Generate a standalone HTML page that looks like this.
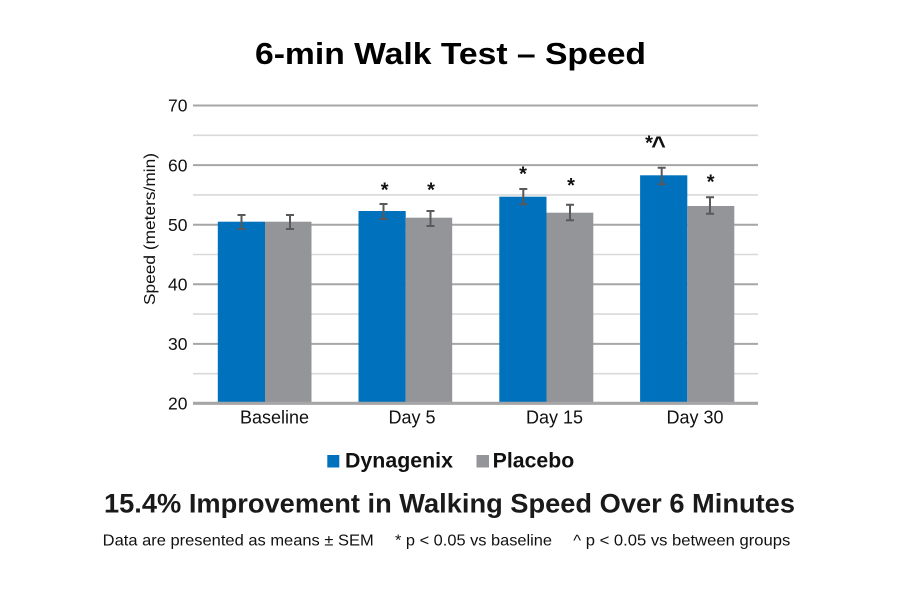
<!DOCTYPE html>
<html>
<head>
<meta charset="utf-8">
<style>
html,body{margin:0;padding:0;background:#fff;}
svg{display:block;}
text{font-family:"Liberation Sans",Arial,sans-serif;}
</style>
</head>
<body>
<svg width="900" height="600" viewBox="0 0 900 600" xmlns="http://www.w3.org/2000/svg">
<rect width="900" height="600" fill="#fff"/>
<!-- Title -->
<text x="255" y="63.8" font-size="31" font-weight="bold" fill="#000" textLength="391" lengthAdjust="spacingAndGlyphs">6-min Walk Test – Speed</text>

<!-- minor gridlines -->
<g stroke="#D9D9D9" stroke-width="1.6">
<line x1="193" y1="135.3" x2="758" y2="135.3"/>
<line x1="193" y1="194.9" x2="758" y2="194.9"/>
<line x1="193" y1="254.5" x2="758" y2="254.5"/>
<line x1="193" y1="314.1" x2="758" y2="314.1"/>
<line x1="193" y1="373.7" x2="758" y2="373.7"/>
</g>
<!-- major gridlines -->
<g stroke="#A6A6A6" stroke-width="2">
<line x1="193" y1="105.5" x2="758" y2="105.5"/>
<line x1="193" y1="165.1" x2="758" y2="165.1"/>
<line x1="193" y1="224.7" x2="758" y2="224.7"/>
<line x1="193" y1="284.3" x2="758" y2="284.3"/>
<line x1="193" y1="343.9" x2="758" y2="343.9"/>
</g>

<!-- Bars -->
<g fill="#0071BC">
<rect x="217.8" y="221.7" width="47.2" height="181"/>
<rect x="358.5" y="211" width="47.2" height="191.7"/>
<rect x="499.3" y="196.7" width="47.2" height="206"/>
<rect x="640.1" y="175.3" width="47.2" height="227.4"/>
</g>
<g fill="#939598">
<rect x="265" y="221.7" width="46.5" height="181"/>
<rect x="405.7" y="217.7" width="46.5" height="185"/>
<rect x="546.5" y="212.7" width="46.8" height="190"/>
<rect x="687.3" y="206" width="47" height="196.7"/>
</g>

<!-- axis -->
<line x1="193" y1="403.3" x2="758" y2="403.3" stroke="#A6A6A6" stroke-width="3.2"/>

<!-- error bars -->
<g stroke="#595959" stroke-width="2" fill="none">
<path d="M241.5 215V229M237.5 215H245.5M237.5 229H245.5"/>
<path d="M290 215V229M286 215H294M286 229H294"/>
<path d="M383.5 204V219M379.5 204H387.5M379.5 219H387.5"/>
<path d="M430.5 211V226M426.5 211H434.5M426.5 226H434.5"/>
<path d="M523.3 189V204.3M519.3 189H527.3M519.3 204.3H527.3"/>
<path d="M570 204.7V220.3M566 204.7H574M566 220.3H574"/>
<path d="M661.7 167.7V184.3M657.7 167.7H665.7M657.7 184.3H665.7"/>
<path d="M710 197.3V213.7M706 197.3H714M706 213.7H714"/>
</g>

<!-- significance marks -->
<g font-size="20" font-weight="bold" fill="#111" text-anchor="middle">
<text x="384.7" y="196.6">*</text>
<text x="431" y="196.6">*</text>
<text x="523" y="180.3">*</text>
<text x="571" y="192">*</text>
<text x="649" y="149.5">*</text>
<text x="710.7" y="188.6">*</text>
</g>
<text x="658.5" y="154" font-size="25" font-weight="bold" fill="#111" text-anchor="middle">^</text>

<!-- y tick labels -->
<g font-size="17.5" fill="#111" text-anchor="end">
<text x="187.5" y="111.7">70</text>
<text x="187.5" y="171.3">60</text>
<text x="187.5" y="230.9">50</text>
<text x="187.5" y="290.5">40</text>
<text x="187.5" y="350.1">30</text>
<text x="187.5" y="409.7">20</text>
</g>

<!-- y axis title -->
<text transform="translate(155,229) rotate(-90)" font-size="15.5" fill="#111" text-anchor="middle" textLength="152" lengthAdjust="spacingAndGlyphs">Speed (meters/min)</text>

<!-- x labels -->
<g font-size="18" fill="#111" text-anchor="middle">
<text x="274.5" y="423.3">Baseline</text>
<text x="412" y="423.3">Day 5</text>
<text x="554.5" y="423.3">Day 15</text>
<text x="695" y="423.3">Day 30</text>
</g>

<!-- legend -->
<rect x="327.3" y="455" width="12" height="12.5" fill="#0071BC"/>
<text x="345" y="467.3" font-size="21" font-weight="bold" fill="#111" textLength="108" lengthAdjust="spacingAndGlyphs">Dynagenix</text>
<rect x="476.5" y="455" width="12.5" height="12.5" fill="#939598"/>
<text x="492.7" y="467.3" font-size="21" font-weight="bold" fill="#111" textLength="81.5" lengthAdjust="spacingAndGlyphs">Placebo</text>

<!-- subtitle -->
<text x="104" y="512.3" font-size="26.5" font-weight="bold" fill="#1a1a1a" textLength="691" lengthAdjust="spacingAndGlyphs">15.4% Improvement in Walking Speed Over 6 Minutes</text>

<!-- footnote -->
<g font-size="16" fill="#111">
<text x="102.7" y="545.7" textLength="271" lengthAdjust="spacingAndGlyphs">Data are presented as means ± SEM</text>
<text x="395" y="545.7" textLength="157" lengthAdjust="spacingAndGlyphs">* p &lt; 0.05 vs baseline</text>
<text x="573.3" y="545.7" textLength="217" lengthAdjust="spacingAndGlyphs">^ p &lt; 0.05 vs between groups</text>
</g>
</svg>
</body>
</html>
